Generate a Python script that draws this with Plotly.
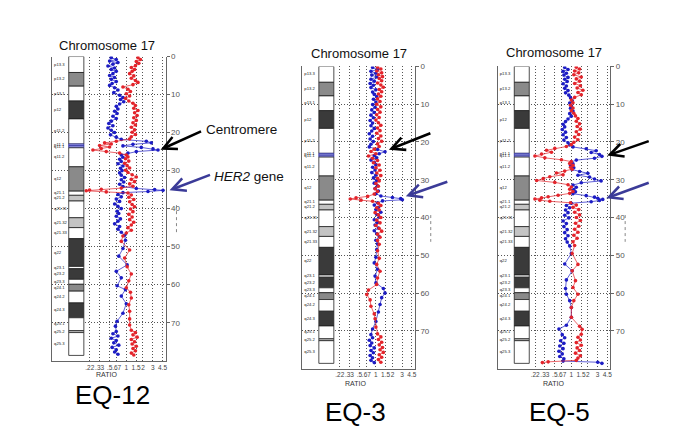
import numpy as np
import plotly.graph_objects as go

W, H = 685, 440
FONT = "Liberation Sans, Arial, sans-serif"

# ---------------- axis ticks ----------------
tick_ratios = [0.22, 0.33, 0.5, 0.67, 1, 1.5, 2, 3, 4.5]
tick_labels = [".22", ".33", ".5", ".67", "1", "1.5", "2", "3", "4.5"]
y_ticks = [0, 10, 20, 30, 40, 50, 60, 70]

# ---------------- chromosome 17 ideogram (Mb) ----------------
band_names = ["p13.3", "p13.2", "p13.1", "p12", "p11.2", "p11.1", "q11.1", "q11.2",
              "q12", "q21.1", "q21.2", "q21.31", "q21.32", "q21.33", "q22", "q23.1",
              "q23.2", "q23.3", "q24.1", "q24.2", "q24.3", "q25.1", "q25.2", "q25.3"]
band_start = [0.0, 4.2, 7.8, 11.7, 16.4, 23.0, 23.5, 24.0, 29.0, 35.4, 36.5, 38.0,
              42.4, 45.0, 47.9, 55.2, 55.8, 58.6, 59.9, 61.7, 64.8, 68.7, 72.1, 72.6]
band_end = [4.2, 7.8, 11.7, 16.4, 23.0, 23.5, 24.0, 29.0, 35.4, 36.5, 38.0, 42.4,
            45.0, 47.9, 55.2, 55.8, 58.6, 59.9, 61.7, 64.8, 68.7, 72.1, 72.6, 78.6]
band_stain = ["gneg", "gpos50", "gneg", "gpos75", "gneg", "acen", "acen", "gneg",
              "gpos50", "gneg", "gpos25", "gneg", "gpos25", "gneg", "gpos75", "gneg",
              "gpos75", "gneg", "gpos50", "gneg", "gpos75", "gneg", "gpos25", "gneg"]

# ---------------- EQ-12 ----------------
eq12_blue_pos = [0.3, 0.8, 1.2, 1.6, 2.0, 2.5, 3.0, 3.4, 3.9, 4.5, 5.0, 5.5, 6.0, 6.6, 7.1, 7.6, 8.2, 8.8, 9.5, 10.2,
                 10.8, 11.3, 11.9, 12.5, 13.1, 13.8, 14.4, 15.0, 15.7, 16.3, 17.0, 17.6, 18.2, 18.8, 19.4, 20.0, 20.6, 21.2,
                 21.8, 22.3, 22.7, 23.1, 23.5, 23.9, 24.3, 24.6, 25.0, 25.4, 25.9, 26.5, 27.0, 27.6, 28.2,
                 28.8, 29.4, 30.0, 30.6, 31.2, 31.8, 32.4, 33.0, 33.6, 34.2,
                 34.7, 35.0, 35.2, 35.5, 35.8,
                 36.3, 36.9, 37.5, 38.1, 38.8, 39.4, 40.0, 40.7, 41.3, 42.0, 42.7, 43.3, 44.0, 44.7, 45.4, 46.2, 47.0,
                 48.3, 50.5, 52.5, 54.8, 56.5, 58.2, 60.3, 61.3, 63.0, 65.0, 67.5, 69.6, 70.9,
                 72.3, 72.9, 73.5, 74.1, 74.7, 75.3, 75.9, 76.5, 77.1, 77.7, 78.3]
eq12_blue_log2 = [-0.9, -0.6, -1.0, -0.5, -0.8, -1.1, -0.7, -0.9, -0.6, -0.8, -1.0, -0.7, -0.9, -0.6, -0.85, -1.0, -0.7, -0.5, -0.75, -0.4,
                  -0.2, -0.35, -0.15, -0.4, -0.6, -0.5, -0.7, -0.55, -0.8, -0.6, -0.9, -1.05, -0.8, -1.1, -0.9, -0.7, -0.95, -0.6,
                  -0.3, 1.2, 1.5, 0.4, -0.2, 0.9, 1.6, 1.9, 0.6, 0.1, -0.3, -0.2, -0.4, -0.3, -0.5,
                  -0.2, -0.35, -0.25, -0.4, -0.3, -0.1, -0.3, -0.15, -0.4, -0.2,
                  0.6, 1.7, 2.2, 1.3, -0.2,
                  -0.5, -0.3, -0.6, -0.4, -0.7, -0.5, -0.3, -0.55, -0.45, -0.6, -0.35, -0.5, -0.7, -0.4, -0.5, -0.3, -0.1,
                  -0.05, -0.2, -0.45, 0.05, -0.6, -0.3, -0.55, -0.05, -0.3, 0.0, -0.2, -0.55, -0.65,
                  -0.6, -0.8, -0.5, -0.9, -0.6, -0.75, -0.45, -0.85, -0.6, -0.7, -0.5]
eq12_red_pos = [0.3, 0.8, 1.3, 1.8, 2.4, 2.9, 3.4, 3.9, 4.5, 5.1, 5.7, 6.3, 6.8, 7.4, 8.0, 8.6, 9.2, 9.8, 10.4, 11.0,
                11.7, 12.3, 12.9, 13.6, 14.2, 14.8, 15.5, 16.1, 16.8, 17.4, 18.0, 18.6, 19.3, 19.9, 20.5, 21.1,
                21.7, 22.3, 22.7, 23.0, 23.4, 23.8, 24.2, 24.6, 25.0, 25.4, 25.9, 26.4, 26.9, 27.5, 28.1, 28.7, 29.3,
                29.9, 30.5, 31.1, 31.7, 32.3, 32.9, 33.5, 34.1,
                34.6, 34.9, 35.1, 35.3, 35.6, 35.9,
                36.4, 37.0, 37.6, 38.2, 38.9, 39.5, 40.1, 40.8, 41.5, 42.2, 42.9, 43.6, 44.3, 45.0, 45.7, 46.4, 47.2,
                48.6, 50.9, 53.0, 55.3, 57.2, 59.0, 60.8, 62.0, 63.5, 65.3, 67.0, 69.0, 70.6,
                72.0, 72.6, 73.2, 73.8, 74.4, 75.0, 75.6, 76.2, 76.8, 77.4, 78.0, 78.5]
eq12_red_log2 = [0.7, 0.85, 0.6, 0.75, 0.55, 0.3, 0.5, 0.35, 0.2, 0.45, 0.3, 0.55, 0.7, 0.4, -0.2, 0.1, 0.25, 0.0, 0.2, -0.05,
                 0.15, 0.4, 0.55, 0.45, 0.7, 0.5, 0.65, 0.45, 0.6, 0.4, 0.55, 0.3, 0.5, 0.35, 0.55, 0.3,
                 0.2, -0.6, -1.3, -0.9, -1.6, -1.0, -1.5, -2.0, -1.2, -0.4, 0.0, 0.1, -0.05, 0.15, -0.1, 0.05, 0.2,
                 -0.05, 0.1, 0.35, 0.6, 0.3, 0.5, 0.2, 0.4,
                 -0.3, -1.5, -2.2, -2.4, -1.2, 0.1,
                 0.3, 0.15, 0.45, 0.2, 0.35, 0.5, 0.25, 0.4, 0.15, 0.35, 0.2, 0.45, 0.3, 0.1, 0.3, 0.0, -0.2,
                 -0.3, 0.2, -0.1, 0.05, 0.3, 0.15, 0.0, 0.25, 0.3, 0.15, 0.2, 0.2, 0.2,
                 0.3, 0.55, 0.4, 0.65, 0.3, 0.5, 0.35, 0.6, 0.4, 0.55, 0.3, 0.45]

# ---------------- EQ-3 ----------------
eq3_blue_pos = [0.3, 0.8, 1.3, 1.8, 2.3, 2.8, 3.4, 3.9, 4.5, 5.0, 5.6, 6.2, 6.8, 7.4, 8.0, 8.7, 9.4, 10.1, 10.8, 11.5,
                12.2, 12.9, 13.6, 14.3, 15.0, 15.7, 16.4, 17.1, 17.8, 18.5, 19.2, 19.9, 20.6, 21.3,
                22.0, 22.6, 23.1, 23.6, 24.2, 24.8, 25.4, 26.0, 26.7, 27.4, 28.1, 28.8, 29.5, 30.2, 30.9, 31.6, 32.3, 33.0, 33.7,
                34.3, 34.7, 35.0, 35.3, 35.6,
                36.1, 36.7, 37.3, 37.9, 38.6, 39.2, 39.9, 40.6, 41.3, 42.0, 42.8, 43.5, 44.3, 45.1, 46.0, 47.0,
                48.5, 50.5, 52.0, 53.7, 55.5, 57.3, 58.8, 60.0, 61.2, 63.0, 65.0, 67.5, 69.5,
                71.0, 71.8, 72.5, 73.2, 73.9, 74.5, 75.2, 75.8, 76.5, 77.1, 77.8, 78.4]
eq3_blue_log2 = [-0.2, 0.1, -0.3, 0.0, -0.25, 0.05, -0.3, -0.1, -0.35, -0.15, -0.3, 0.0, -0.2, -0.1, 0.05, -0.15, 0.0, -0.2, -0.05, -0.25,
                 -0.1, -0.3, -0.15, -0.35, -0.2, -0.3, -0.1, -0.25, -0.4, -0.2, -0.35, -0.15, -0.3, -0.4,
                 0.1, 0.55, 0.2, -0.1, 0.05, -0.3, -0.1, 0.0, -0.2, -0.05, -0.25, 0.0, -0.15, 0.05, -0.1, 0.1, -0.05, 0.15, 0.0,
                 0.3, 1.0, 1.5, 1.6, 0.4,
                 0.1, -0.1, 0.15, 0.0, 0.3, 0.05, 0.2, -0.1, 0.1, -0.05, 0.15, -0.1, 0.05, 0.2, 0.0, 0.1,
                 0.05, 0.0, -0.1, 0.1, -0.05, 0.0, 0.45, 0.55, 0.35, 0.25, 0.15, 0.0, -0.2,
                 -0.3, -0.2, -0.4, -0.25, -0.35, -0.1, -0.3, -0.15, -0.35, -0.2, -0.3, -0.1]
eq3_red_pos = [0.2, 0.7, 1.2, 1.7, 2.2, 2.7, 3.2, 3.8, 4.4, 4.9, 5.5, 6.1, 6.7, 7.3, 7.9, 8.6, 9.3, 10.0, 10.7, 11.4,
               12.1, 12.8, 13.5, 14.2, 14.9, 15.6, 16.3, 17.0, 17.7, 18.4, 19.1, 19.8, 20.5, 21.2,
               21.9, 22.5, 23.1, 23.7, 24.3, 24.9, 25.5, 26.1, 26.8, 27.5, 28.2, 28.9, 29.6, 30.3, 31.0, 31.7, 32.4, 33.1, 33.8,
               34.4, 34.8, 35.1, 35.4, 35.7,
               36.2, 36.8, 37.4, 38.0, 38.7, 39.3, 40.0, 40.7, 41.4, 42.1, 42.9, 43.6, 44.4, 45.2, 46.1, 47.1,
               48.8, 50.8, 52.4, 54.2, 56.0, 57.7, 59.2, 60.4, 61.8, 63.5, 65.5, 66.8, 69.0,
               70.8, 71.6, 72.3, 73.0, 73.7, 74.4, 75.0, 75.7, 76.3, 77.0, 77.6, 78.3]
eq3_red_log2 = [0.1, 0.3, 0.05, 0.35, 0.15, 0.4, 0.2, 0.35, 0.1, 0.3, 0.45, 0.2, 0.35, 0.15, 0.3, 0.1, 0.25, 0.05, 0.3, 0.1,
                0.25, 0.05, 0.2, 0.0, 0.15, 0.3, 0.1, 0.25, 0.05, 0.3, 0.15, 0.35, 0.1, 0.2,
                -0.1, -0.3, 0.0, -0.45, -0.2, 0.1, -0.15, 0.2, 0.0, 0.25, 0.05, 0.3, 0.1, 0.2, 0.0, 0.15, -0.05, 0.1, -0.1,
                -0.5, -1.2, -1.55, -0.9, -0.2,
                0.15, 0.3, 0.05, 0.2, -0.05, 0.15, 0.3, 0.05, 0.25, 0.0, 0.2, 0.35, 0.1, 0.25, 0.1, 0.2,
                0.1, 0.2, 0.05, 0.25, 0.1, 0.05, -0.45, -0.55, -0.35, -0.3, -0.1, -0.05, 0.0,
                0.1, 0.3, 0.15, 0.35, 0.2, 0.4, 0.25, 0.45, 0.2, 0.35, 0.15, 0.3]

# ---------------- EQ-5 ----------------
eq5_blue_pos = [0.3, 0.8, 1.3, 1.8, 2.3, 2.9, 3.4, 4.0, 4.6, 5.2, 5.8, 6.4, 7.0, 7.6, 8.3, 9.0, 9.7, 10.4, 11.1, 11.8,
                12.5, 13.2, 13.9, 14.6, 15.3, 16.0, 16.7, 17.4, 18.1, 18.8, 19.5, 20.2, 20.8,
                21.3, 21.8, 22.3, 22.8, 23.3, 23.8, 24.3, 24.8, 25.3, 25.8, 26.3, 26.8, 27.3, 27.8, 28.3, 28.8, 29.3,
                29.8, 30.3, 30.8, 31.4, 32.0, 32.6, 33.2, 33.7,
                34.2, 34.6, 34.9, 35.2, 35.5, 35.8,
                36.2, 36.8, 37.4, 38.0, 38.7, 39.4, 40.1, 40.9, 41.6, 42.4, 43.2, 44.0, 44.8, 45.6, 46.5, 47.5,
                49.5, 52.3, 54.1, 56.5, 58.8, 60.3, 62.0, 63.8, 66.4, 68.5, 69.5,
                71.0, 71.8, 72.6, 73.3, 74.0, 74.7, 75.4, 76.1, 76.8, 77.4, 78.0, 78.3, 78.6]
eq5_blue_log2 = [-0.4, -0.2, -0.5, -0.3, -0.45, -0.2, -0.4, -0.25, -0.5, -0.3, -0.4, -0.2, -0.35, -0.15, -0.05, 0.05, -0.1, 0.0, -0.05, 0.1,
                 -0.1, 0.0, -0.2, -0.35, -0.5, -0.4, -0.55, -0.35, -0.5, -0.3, -0.45, -0.2, -0.1,
                 0.1, 0.9, 1.5, 1.2, 1.7, 1.85, 1.4, 0.3, 0.0, 0.1, -0.05, 0.15, 0.05, 0.5, 1.0, 0.4, 1.1,
                 1.4, 1.8, 0.6, 0.1, 0.3, 0.15, 0.25, 0.1,
                 0.9, 1.4, 1.6, 1.9, 1.7, 1.2,
                 0.0, -0.3, -0.1, -0.35, -0.2, -0.4, -0.15, -0.5, -0.3, -0.45, -0.25, -0.4, -0.2, -0.35, -0.25, -0.1,
                 0.0, -0.4, 0.05, -0.3, -0.35, -0.3, -0.1, 0.0, 0.0, -0.3, -0.75,
                 -0.55, -0.4, -0.65, -0.45, -0.7, -0.5, -0.75, -0.55, -0.7, -0.45, -0.5, 1.6, 1.85]
eq5_red_pos = [0.2, 0.7, 1.2, 1.7, 2.2, 2.8, 3.3, 3.9, 4.5, 5.1, 5.7, 6.3, 6.9, 7.5, 8.2, 8.9, 9.6, 10.3, 11.0, 11.7,
               12.4, 13.1, 13.8, 14.5, 15.2, 15.9, 16.6, 17.3, 18.0, 18.7, 19.4, 20.1, 20.7,
               21.2, 21.7, 22.2, 22.7, 23.2, 23.7, 24.2, 24.7, 25.2, 25.7, 26.2, 26.7, 27.2, 27.7, 28.2, 28.7, 29.2,
               29.7, 30.2, 30.7, 31.3, 31.9, 32.5, 33.1, 33.6,
               34.1, 34.5, 34.8, 35.1, 35.4, 35.7,
               36.1, 36.7, 37.3, 37.9, 38.6, 39.3, 40.0, 40.8, 41.5, 42.3, 43.1, 43.9, 44.7, 45.5, 46.4, 47.4,
               49.5, 52.4, 54.1, 56.7, 58.5, 60.3, 62.0, 63.8, 66.4, 68.8, 69.6,
               70.9, 71.7, 72.4, 73.1, 73.8, 74.5, 75.2, 75.9, 76.6, 77.2, 77.8, 78.2, 78.4]
eq5_red_log2 = [0.3, 0.5, 0.2, 0.45, 0.15, 0.6, 0.3, 0.5, 0.2, 0.55, 0.35, 0.7, 0.4, 0.6, 0.2, 0.0, 0.1, -0.05, 0.1, 0.0,
                0.15, 0.25, 0.4, 0.3, 0.5, 0.35, 0.55, 0.3, 0.45, 0.2, 0.4, 0.15, 0.0,
                -0.3, -1.0, -1.5, -1.2, -1.8, -2.2, -1.6, -0.6, 0.0, -0.1, 0.1, -0.05, 0.05, -0.4, -0.9, -0.5, -1.3,
                -1.7, -2.1, -1.0, -0.2, 0.0, -0.1, 0.1, -0.1,
                -0.8, -1.4, -1.8, -2.2, -1.9, -1.3,
                -0.05, 0.3, 0.1, 0.45, 0.2, 0.5, 0.3, 0.55, 0.25, 0.45, 0.2, 0.4, 0.15, 0.35, 0.1, 0.2,
                0.05, 0.4, 0.05, 0.25, 0.1, 0.4, 0.15, 0.0, 0.0, 0.5, 0.65,
                0.6, 0.4, 0.55, 0.3, 0.6, 0.35, 0.5, 0.25, 0.55, 0.4, 0.3, -1.4, -1.75]

# ---------------- layout geometry (pixels) ----------------
panels = [
    dict(name="EQ-12", box=(52, 166, 53, 360), title=(107, 42), caption=(113, 395), ratio=(107, 374),
         blue=(eq12_blue_pos, eq12_blue_log2), red=(eq12_red_pos, eq12_red_log2),
         arrows=[((161, 147), (203, 128), "#000000"), ((170, 188), (212, 172), "#3b3b98")],
         bracket=(177, 203, 232)),
    dict(name="EQ-3", box=(303, 416, 63, 368), title=(360, 50), caption=(357, 412), ratio=(357, 383),
         blue=(eq3_blue_pos, eq3_blue_log2), red=(eq3_red_pos, eq3_red_log2),
         arrows=[((390, 147), (433, 130), "#000000"), ((407, 194), (450, 179), "#3b3b98")],
         bracket=(432, 213, 240)),
    dict(name="EQ-5", box=(499, 612, 63, 368), title=(556, 49), caption=(561, 412), ratio=(555, 383),
         blue=(eq5_blue_pos, eq5_blue_log2), red=(eq5_red_pos, eq5_red_log2),
         arrows=[((609, 153), (652, 138), "#000000"), ((608, 196), (652, 180), "#3b3b98")],
         bracket=(627, 213, 240)),
]

stain_fill = {"gneg": "#ffffff", "gpos25": "#c4c4c4", "gpos50": "#8a8a8a", "gpos75": "#3a3a3a", "acen": "#a8aaf0"}
stain_line = {"gneg": "#222222", "gpos25": "#222222", "gpos50": "#222222", "gpos75": "#222222", "acen": "#2a2a9a"}

RED = "#e3242b"
BLUE = "#1c1cc4"
GRID = "#555555"
GRID_DASH = "1px,2px"

fig = go.Figure()
layout = dict(width=W, height=H, margin=dict(l=0, r=0, t=0, b=0, pad=0), autosize=False,
              paper_bgcolor="white", plot_bgcolor="white", showlegend=False,
              barmode="overlay", font=dict(family=FONT))
annotations = []
shapes = []

band_len = [e - s for s, e in zip(band_start, band_end)]
band_mid = [(s + e) / 2 for s, e in zip(band_start, band_end)]


def text_ann(x, y, text, size, color="#111111", xanchor="center"):
    return dict(x=x / W, y=1 - y / H, xref="paper", yref="paper", text=text, showarrow=False,
                xanchor=xanchor, yanchor="middle", font=dict(size=size, color=color, family=FONT))


for i, p in enumerate(panels, start=1):
    xid = "x" if i == 1 else f"x{i}"
    yid = "y" if i == 1 else f"y{i}"
    oid = f"x{i + 3}"
    xkey = "xaxis" if i == 1 else f"xaxis{i}"
    ykey = "yaxis" if i == 1 else f"yaxis{i}"
    okey = f"xaxis{i + 3}"
    left, right, top, bottom = p["box"]

    layout[xkey] = dict(domain=[left / W, right / W], range=[-4.46, 2.35], anchor=yid,
                        tickmode="array", tickvals=list(np.log2(tick_ratios)), ticktext=tick_labels,
                        tickangle=0, showgrid=True, gridcolor=GRID, griddash=GRID_DASH, gridwidth=1,
                        showline=True, linecolor="#666666", linewidth=1, ticks="",
                        tickfont=dict(size=6.5, color="#444444", family=FONT), zeroline=False)
    layout[ykey] = dict(domain=[1 - bottom / H, 1 - top / H], range=[80, 0], anchor=xid, side="right",
                        tickmode="array", tickvals=y_ticks, showgrid=True, gridcolor=GRID,
                        griddash=GRID_DASH, gridwidth=1, showline=True, mirror=True, linecolor="#666666",
                        linewidth=1, ticks="outside", ticklen=3, tickcolor="#666666",
                        tickfont=dict(size=8, color="#555555", family=FONT), zeroline=False)
    layout[okey] = dict(overlaying=xid, anchor=yid, range=[0, 1], visible=False)

    # ideogram
    fig.add_trace(go.Bar(x=[0.215] * len(band_names), y=band_len, base=band_start, width=0.133,
                         marker=dict(color=[stain_fill[s] for s in band_stain],
                                     line=dict(color=[stain_line[s] for s in band_stain], width=0.8)),
                         xaxis=oid, yaxis=yid, hoverinfo="skip"))
    fig.add_trace(go.Scatter(x=[0.02] * len(band_names), y=band_mid, text=band_names, mode="text",
                             textposition="middle right",
                             textfont=dict(size=4.2, color="#222222", family=FONT),
                             xaxis=oid, yaxis=yid, hoverinfo="skip"))

    # ratio profiles
    bpos, blog = p["blue"]
    rpos, rlog = p["red"]
    fig.add_trace(go.Scatter(x=blog, y=bpos, mode="lines+markers",
                             line=dict(color=BLUE, width=0.7), marker=dict(size=3.6, color=BLUE),
                             xaxis=xid, yaxis=yid))
    fig.add_trace(go.Scatter(x=rlog, y=rpos, mode="lines+markers",
                             line=dict(color=RED, width=0.7), marker=dict(size=3.6, color=RED),
                             xaxis=xid, yaxis=yid))

    # texts
    annotations.append(text_ann(*p["title"], "Chromosome 17", 13))
    annotations.append(text_ann(*p["caption"], p["name"], 26, "#000000"))
    annotations.append(text_ann(*p["ratio"], "RATIO", 7, "#333333"))
    for (tip, tail, col) in p["arrows"]:
        annotations.append(dict(x=tip[0] / W, y=1 - tip[1] / H, xref="paper", yref="paper", text="",
                                showarrow=True, ax=tail[0] - tip[0], ay=tail[1] - tip[1],
                                arrowhead=5, arrowsize=1.0, arrowwidth=2.6, arrowcolor=col, standoff=0))
    bx, by0, by1 = p["bracket"]
    shapes.append(dict(type="line", xref="paper", yref="paper", x0=bx / W, x1=bx / W,
                       y0=1 - by0 / H, y1=1 - by1 / H, line=dict(color="#888888", width=1, dash="dot")))

annotations.append(text_ann(205, 127, "Centromere", 13.5, xanchor="left"))
annotations.append(text_ann(213, 174, "<i>HER2</i> gene", 13.5, xanchor="left"))

layout["annotations"] = annotations
layout["shapes"] = shapes
fig.update_layout(**layout)
fig.write_html("out.html", config={"displayModeBar": False},
               post_script="document.body.style.margin='0px';document.body.style.padding='0px';")
